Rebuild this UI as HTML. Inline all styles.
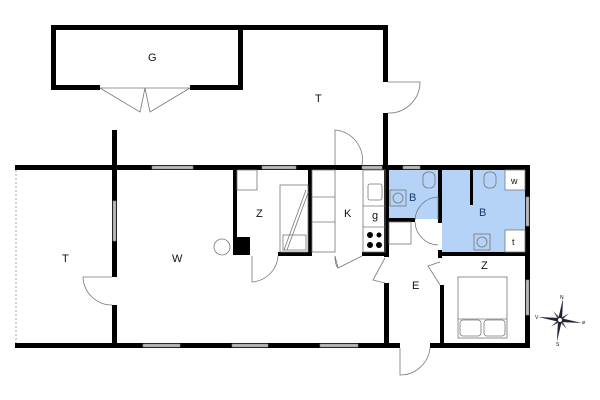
<!DOCTYPE html>
<html><head><meta charset="utf-8"><style>
html,body{margin:0;padding:0;background:#fff;width:600px;height:400px;overflow:hidden}
svg{display:block}
text{font-family:"Liberation Sans",sans-serif;font-size:11px;fill:#111}
</style></head><body>
<svg width="600" height="400" viewBox="0 0 600 400" xmlns="http://www.w3.org/2000/svg">
<rect x="388" y="170" width="51" height="49" fill="#b5d2f7"/>
<rect x="442" y="170" width="84" height="82" fill="#b5d2f7"/>
<g fill="#000">
<rect x="51" y="25" width="337" height="5"/>
<rect x="51" y="25" width="5" height="65"/>
<rect x="238" y="25" width="5" height="65"/>
<rect x="51" y="85" width="49" height="5"/>
<rect x="190" y="85" width="53" height="5"/>
<rect x="383" y="25" width="5" height="57"/>
<rect x="383" y="113" width="5" height="57"/>
<rect x="112" y="130" width="5" height="40"/>
<rect x="15" y="165" width="515" height="5"/>
<rect x="15" y="343" width="385" height="5"/>
<rect x="430" y="343" width="100" height="5"/>
<rect x="112" y="165" width="5" height="112"/>
<rect x="112" y="305" width="5" height="43"/>
<rect x="233" y="170" width="4" height="85"/>
<rect x="233" y="237" width="17" height="18"/>
<rect x="278" y="252" width="34" height="4"/>
<rect x="308" y="170" width="4" height="86"/>
<rect x="362" y="252" width="26" height="4"/>
<rect x="384" y="165" width="5" height="92"/>
<rect x="384" y="283" width="5" height="65"/>
<rect x="388" y="218" width="27" height="4"/>
<rect x="438" y="170" width="4" height="53"/>
<rect x="438" y="250" width="4" height="8"/>
<rect x="470" y="170" width="3" height="35"/>
<rect x="440" y="252" width="90" height="4"/>
<rect x="440" y="285" width="4" height="63"/>
<rect x="525" y="165" width="5" height="183"/>
</g>
<g fill="#bbb" stroke="#888" stroke-width="0.6">
<rect x="152" y="166" width="41" height="3"/>
<rect x="262" y="166" width="34" height="3"/>
<rect x="362" y="166" width="20" height="3"/>
<rect x="403" y="166" width="17" height="3"/>
<rect x="143" y="344" width="37" height="3"/>
<rect x="232" y="344" width="36" height="3"/>
<rect x="320" y="344" width="38" height="3"/>
<rect x="113" y="201" width="3" height="40"/>
<rect x="526" y="197" width="3" height="29"/>
<rect x="526" y="280" width="3" height="35"/>
</g>
<line x1="16" y1="170" x2="16" y2="343" stroke="#aaa" stroke-width="1" stroke-dasharray="2,2"/>
<g fill="none" stroke="#777" stroke-width="0.8">
<line x1="100" y1="88" x2="190" y2="88"/>
<path d="M100 88 L140 112 Q143 98 145 88 Q147 98 150 112 L190 88"/>
<path d="M388 82 L420 82 A31 31 0 0 1 388 113"/>
<path d="M335 165 L335 130 A30 30 0 0 1 362 165"/>
<path d="M112 277 L83 277 A29 29 0 0 0 112 305"/>
<path d="M252 256 L252 282 A28 28 0 0 0 278 256"/>
<path d="M335 256 L338 268 L362 256"/>
<path d="M335 256 Q335 265 338 268"/>
<path d="M385 258 L373 280 L385 283"/>
<path d="M440 262 L428 266 L440 285"/>
<path d="M400 348 L400 375 A30 30 0 0 0 430 348"/>
<path d="M415 220 A24 24 0 0 1 438 197 L438 220"/>
<path d="M415 222 A24 24 0 0 0 438 245"/>
<circle cx="222" cy="247" r="8"/>
<rect x="237" y="170" width="20" height="20"/>
<rect x="280" y="185" width="28" height="67"/>
<line x1="284" y1="250" x2="306" y2="190"/>
<line x1="287" y1="250" x2="308" y2="193"/>
<rect x="283" y="235" width="23" height="15"/>
<rect x="312" y="170" width="23" height="82"/>
<line x1="312" y1="197" x2="335" y2="197"/>
<line x1="312" y1="222" x2="335" y2="222"/>
<rect x="363" y="170" width="22" height="82"/>
<line x1="363" y1="206" x2="385" y2="206"/>
<line x1="363" y1="227" x2="385" y2="227"/>
<rect x="368" y="184" width="14" height="16" rx="2"/>
<rect x="389" y="222" width="22" height="22"/>
<rect x="423" y="172" width="12" height="16" rx="5"/>
<rect x="484" y="172" width="12" height="16" rx="5"/>
<rect x="390" y="190" width="16" height="16"/><circle cx="398" cy="198" r="5"/>
<rect x="474" y="234" width="16" height="16"/><circle cx="482" cy="242" r="5"/>
<rect x="505" y="170" width="20" height="20" fill="#fff"/>
<rect x="505" y="230" width="20" height="22" fill="#fff"/>
<rect x="458" y="277" width="49" height="61"/>
<line x1="458" y1="319" x2="507" y2="319"/>
<rect x="460" y="320" width="21" height="16" rx="3"/>
<rect x="484" y="320" width="21" height="16" rx="3"/>
</g>
<g fill="#000"><circle cx="370" cy="235" r="3"/><circle cx="379" cy="235" r="2.5"/><circle cx="370" cy="245" r="3"/><circle cx="379" cy="245" r="3"/></g>
<g transform="translate(560,320) rotate(8)">
<polygon points="0,-22 2,0 0,22 -2,0" fill="#223"/>
<polygon points="-22,0 0,-2 22,0 0,2" fill="#223"/>
<polygon points="-8,-8 1,-1 8,8 -1,1" fill="#445"/>
<polygon points="8,-8 1,1 -8,8 -1,-1" fill="#445"/>
<circle cx="0" cy="0" r="2.5" fill="#fff" stroke="#223"/>
</g>
<text x="560" y="299" style="font-size:5px">N</text><text x="535" y="319" style="font-size:5px">V</text><text x="582" y="324" style="font-size:5px">ø</text><text x="556" y="346" style="font-size:5px">S</text>
<text x="148" y="61">G</text>
<text x="315" y="102">T</text>
<text x="62" y="262">T</text>
<text x="172" y="262">W</text>
<text x="256" y="217">Z</text>
<text x="344" y="217">K</text>
<text x="372" y="219">g</text>
<text x="409" y="201" style="fill:#123a6a">B</text>
<text x="479" y="216" style="fill:#123a6a">B</text>
<text x="511" y="184" style="font-size:9px">w</text>
<text x="512" y="245" style="font-size:9px">t</text>
<text x="481" y="269">Z</text>
<text x="412" y="289">E</text>
</svg>
</body></html>
